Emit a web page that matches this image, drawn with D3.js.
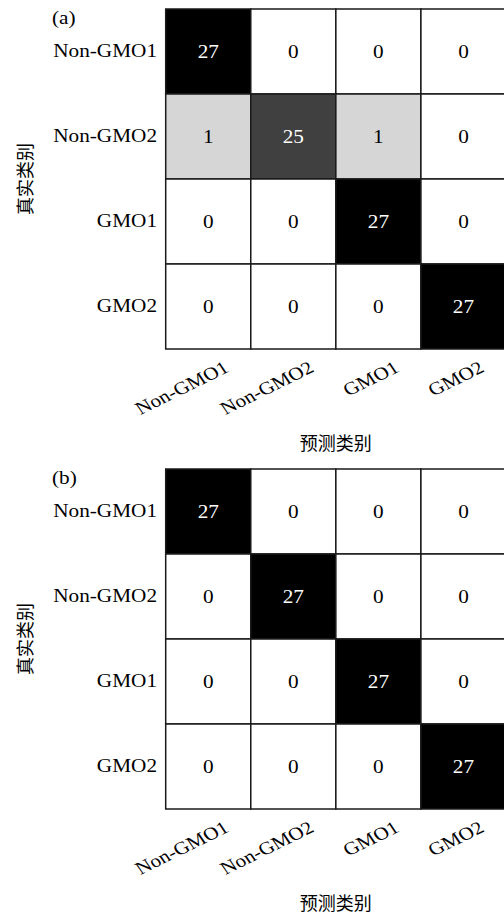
<!DOCTYPE html>
<html>
<head>
<meta charset="utf-8">
<script src="https://cdn.jsdelivr.net/npm/d3@7"></script>
<style>
  body { margin: 0; background: #fff; }
  svg { display: block; }
  .lat { font-family: "Liberation Serif", "DejaVu Serif", serif; font-size: 18px; }
  .cjk { font-family: "Noto Sans CJK SC", sans-serif; font-size: 18px; }
</style>
</head>
<body>
<div id="chart"></div>
<script>
// confusion matrices, rows = true class, cols = predicted class
const classes = ["Non-GMO1", "Non-GMO2", "GMO1", "GMO2"];
const matrixA = [
  [27, 0, 0, 0],
  [1, 25, 1, 0],
  [0, 0, 27, 0],
  [0, 0, 0, 27]
];
const matrixB = [
  [27, 0, 0, 0],
  [0, 27, 0, 0],
  [0, 0, 27, 0],
  [0, 0, 0, 27]
];
const panelNames = ["(a)", "(b)"];
const xTitle = "预测类别";
const yTitle = "真实类别";

const W = 504, H = 915;
const sx = 1.18; // figure looks stretched horizontally

let svg = d3.select("#chart").append("svg")
  .attr("width", W)
  .attr("height", H);

let color = d3.scaleLinear()
  .domain([0, 1, 25, 27])
  .range(["#ffffff", "#d6d6d6", "#404040", "#000000"]);

function drawPanel(matrix, name, top) {
  let g = svg.append("g");

  let x = d3.scaleBand().domain(classes).range([165.7, 506]);
  let y = d3.scaleBand().domain(classes).range([top, top + 340]);

  let cells = [];
  matrix.forEach((row, i) => {
    row.forEach((v, j) => cells.push({ t: classes[i], p: classes[j], v: v }));
  });

  g.selectAll("rect.cell")
    .data(cells)
    .enter()
    .append("rect")
    .attr("class", "cell")
    .attr("x", d => x(d.p))
    .attr("y", d => y(d.t))
    .attr("width", x.bandwidth())
    .attr("height", y.bandwidth())
    .attr("fill", d => color(d.v))
    .attr("stroke", "#1a1a1a")
    .attr("stroke-width", 1.5);

  g.selectAll("text.val")
    .data(cells)
    .enter()
    .append("text")
    .attr("class", "val lat")
    .attr("text-anchor", "middle")
    .attr("transform", d => `translate(${x(d.p) + x.bandwidth() / 2},${y(d.t) + y.bandwidth() / 2 + 6}) scale(${sx},1)`)
    .attr("fill", d => d.v > 13.5 ? "#fff" : "#000")
    .text(d => d.v);

  // row labels
  g.selectAll("text.rowlab")
    .data(classes)
    .enter()
    .append("text")
    .attr("class", "rowlab lat")
    .attr("text-anchor", "end")
    .attr("transform", d => `translate(157,${y(d) + y.bandwidth() / 2 + 5.8}) scale(${sx},1)`)
    .text(d => d);

  // column labels, rotated
  let bottom = top + 340;
  g.selectAll("text.collab")
    .data(classes)
    .enter()
    .append("text")
    .attr("class", "collab lat")
    .attr("text-anchor", "end")
    .attr("transform", d => `translate(${x(d) + x.bandwidth() / 2 + 22},${bottom + 22}) scale(${sx},1) rotate(-30)`)
    .text(d => d);

  g.append("text")
    .attr("class", "lat")
    .attr("transform", `translate(52,${top + 15}) scale(${sx},1)`)
    .text(name);

  g.append("text")
    .attr("class", "cjk")
    .attr("text-anchor", "middle")
    .attr("x", (165.7 + 506) / 2)
    .attr("y", bottom + 101)
    .text(xTitle);

  g.append("text")
    .attr("class", "cjk")
    .attr("text-anchor", "middle")
    .attr("transform", `translate(32,${top + 170}) rotate(-90)`)
    .text(yTitle);
}

drawPanel(matrixA, panelNames[0], 9);
drawPanel(matrixB, panelNames[1], 469);
</script>
</body>
</html>
